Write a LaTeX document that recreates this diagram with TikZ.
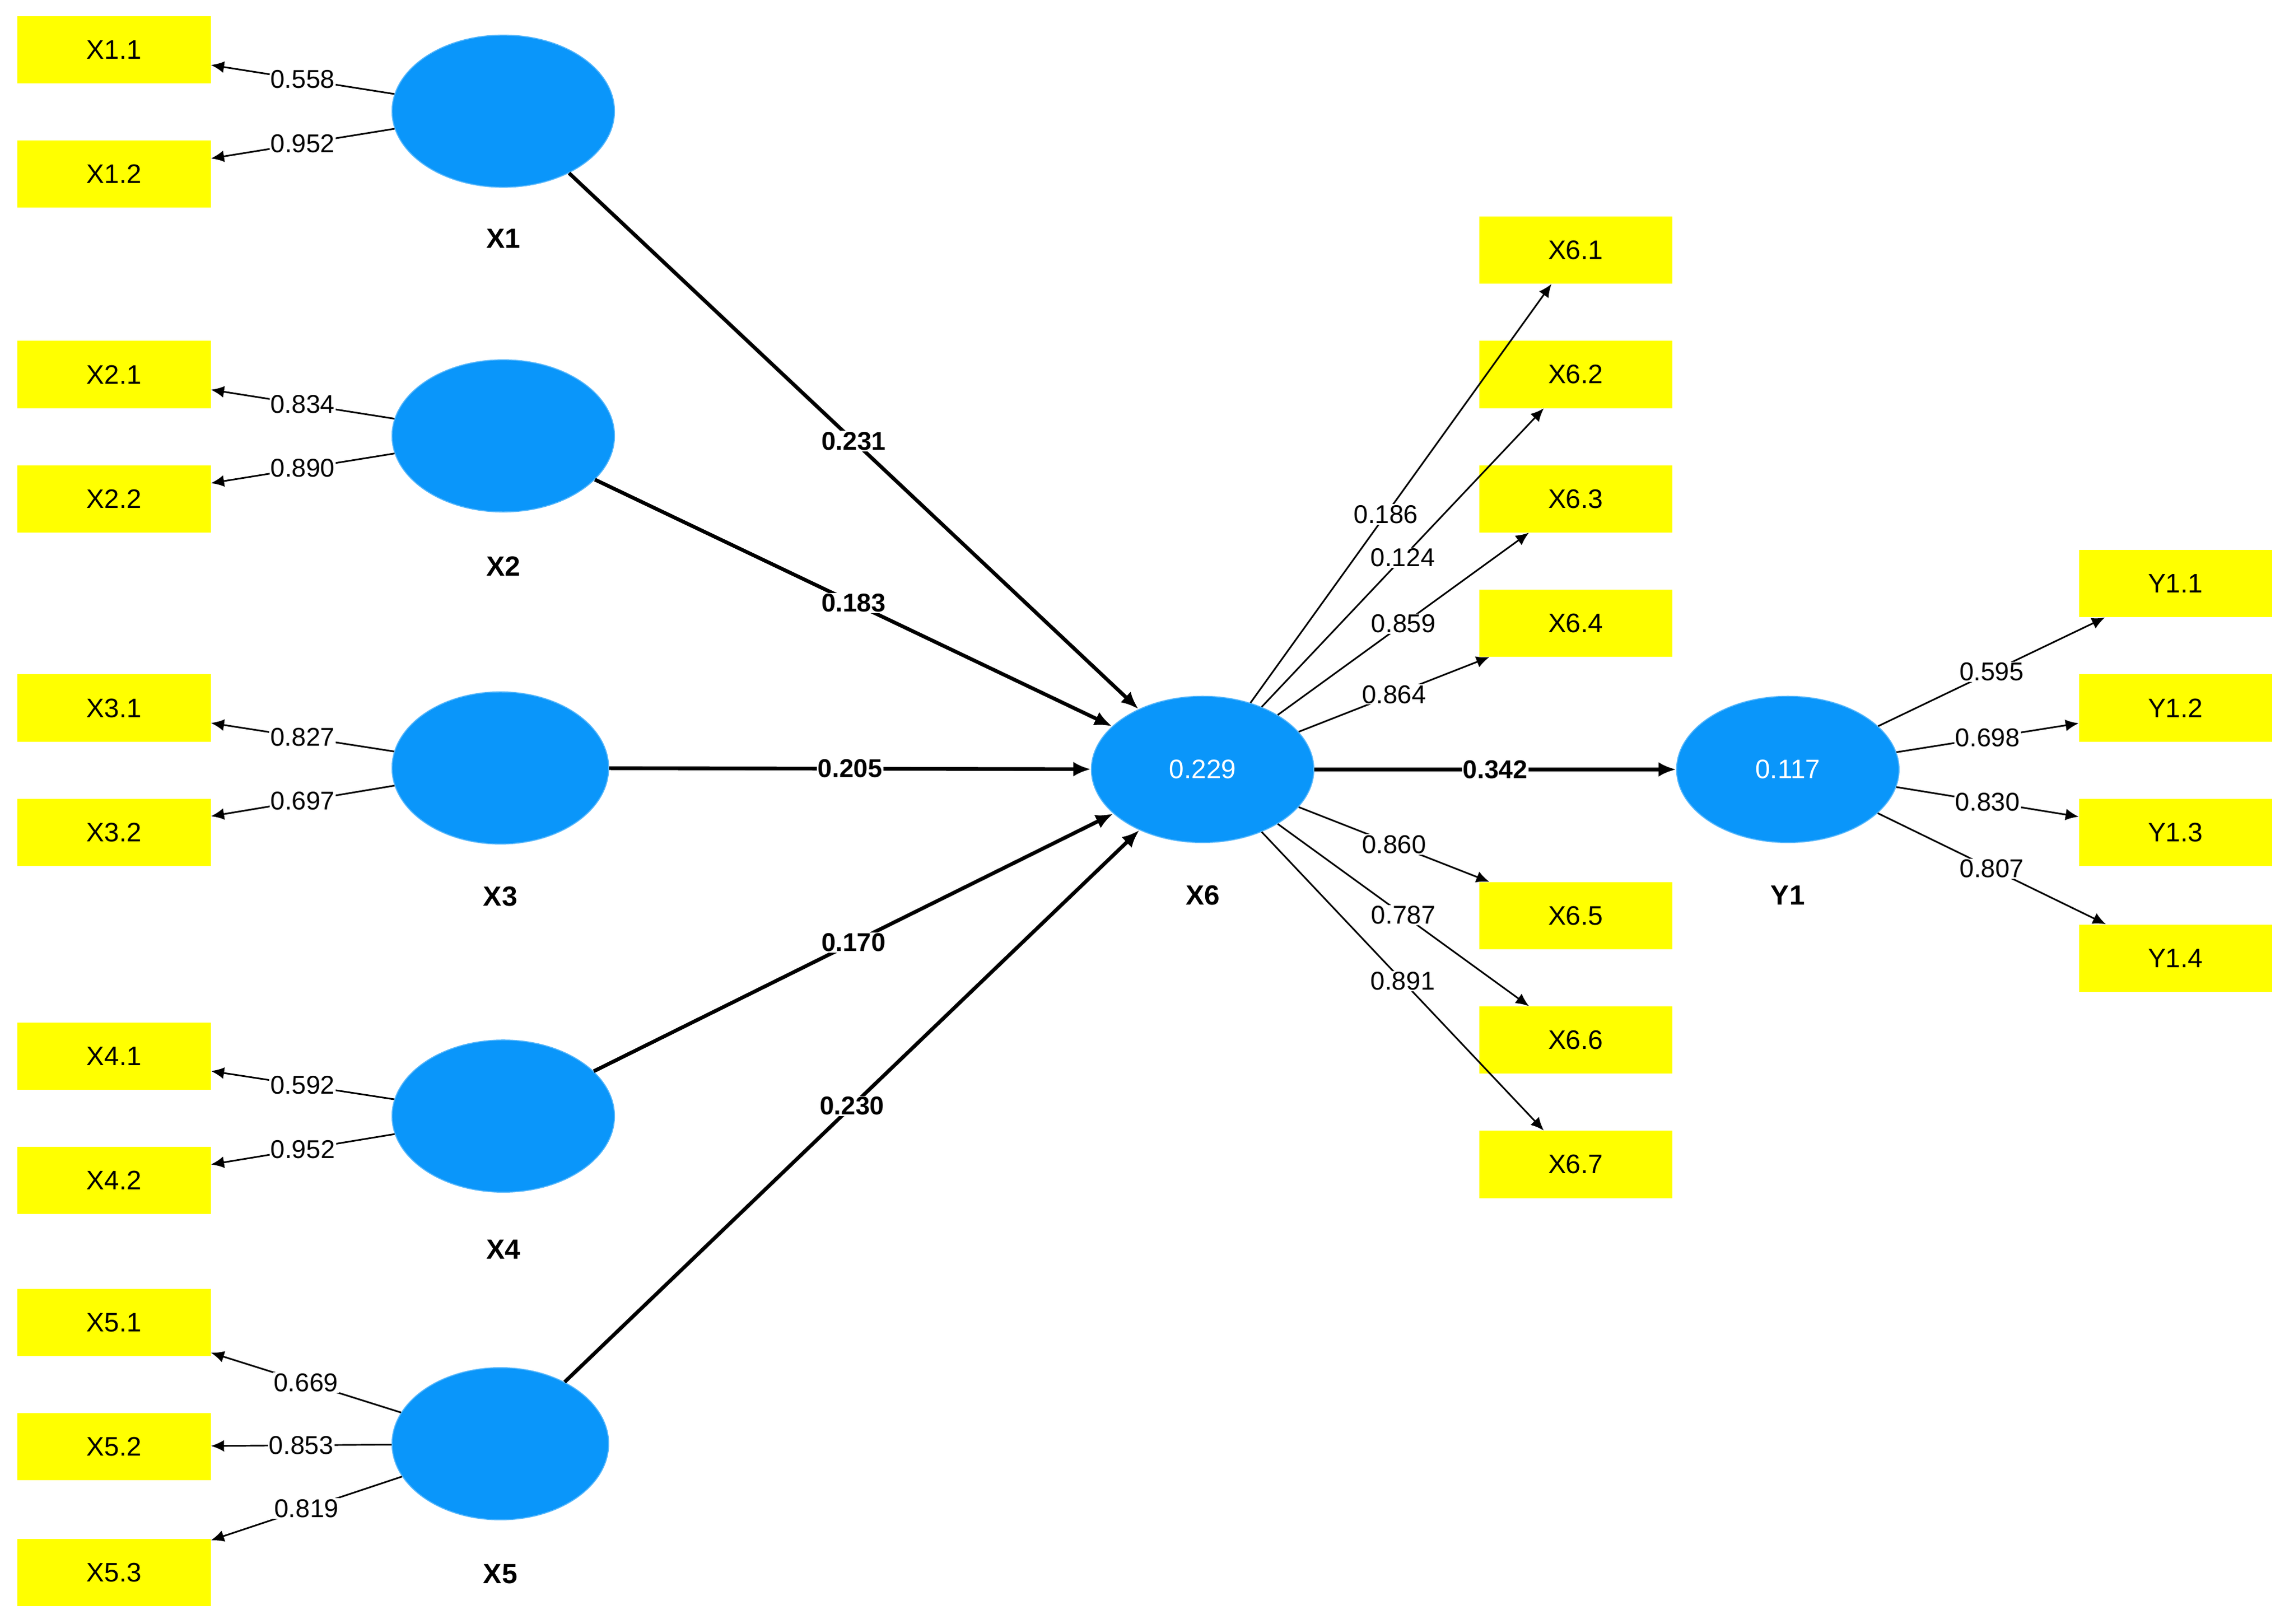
\documentclass[tikz,border=0pt]{standalone}
\usepackage{fontspec}
\setmainfont{Liberation Sans}
\usetikzlibrary{arrows.meta,shapes.geometric}
\definecolor{ybox}{RGB}{255,255,0}
\definecolor{lv}{RGB}{10,150,250}
\begin{document}
\begin{tikzpicture}[x=0.5mm,y=-0.5mm,
 box/.style={fill=ybox,minimum width=66mm,minimum height=23mm,inner sep=0pt,font=\fontsize{26}{28}\selectfont},
 lat/.style={ellipse,fill=lv,draw=lv!70!white,line width=1pt,minimum width=76mm,minimum height=52mm,inner sep=0pt,text=white,font=\fontsize{26}{28}\selectfont},
 lab/.style={font=\bfseries\fontsize{27}{29}\selectfont},
 ld/.style={line width=1.6pt,-{Latex[length=4.5mm,width=4mm]}},
 pth/.style={line width=3.6pt,-{Latex[length=6mm,width=5mm]}},
 lt/.style={fill=white,inner sep=1pt,font=\fontsize{25}{27}\selectfont},
 pt/.style={fill=white,inner sep=1pt,font=\bfseries\fontsize{25}{27}\selectfont}]
\useasboundingbox (0,0) rectangle (1568,1110);
% indicators left
\node[box] (x11) at (78,34) {X1.1};
\node[box] (x12) at (78,119) {X1.2};
\node[box] (x21) at (78,256) {X2.1};
\node[box] (x22) at (78,341) {X2.2};
\node[box] (x31) at (78,484) {X3.1};
\node[box] (x32) at (78,569) {X3.2};
\node[box] (x41) at (78,722) {X4.1};
\node[box] (x42) at (78,807) {X4.2};
\node[box] (x51) at (78,904) {X5.1};
\node[box] (x52) at (78,989) {X5.2};
\node[box] (x53) at (78,1075) {X5.3};
% X6 indicators
\node[box] (x61) at (1077,171) {X6.1};
\node[box] (x62) at (1077,256) {X6.2};
\node[box] (x63) at (1077,341) {X6.3};
\node[box] (x64) at (1077,426) {X6.4};
\node[box] (x65) at (1077,626) {X6.5};
\node[box] (x66) at (1077,711) {X6.6};
\node[box] (x67) at (1077,796) {X6.7};
% Y1 indicators
\node[box] (y11) at (1487,399) {Y1.1};
\node[box] (y12) at (1487,484) {Y1.2};
\node[box] (y13) at (1487,569) {Y1.3};
\node[box] (y14) at (1487,655) {Y1.4};
% latent
\node[lat] (X1) at (344,76) {};
\node[lat] (X2) at (344,298) {};
\node[lat,minimum width=74mm] (X3) at (342,525) {};
\node[lat] (X4) at (344,763) {};
\node[lat,minimum width=74mm] (X5) at (342,987) {};
\node[lat,minimum height=50mm] (X6) at (822,526) {0.229};
\node[lat,minimum height=50mm] (Y1) at (1222,526) {0.117};
\node[lab] (lX1) at (344,163) {X1};
\node[lab] (lX2) at (344,387) {X2};
\node[lab] (lX3) at (342,613) {X3};
\node[lab] (lX4) at (344,854) {X4};
\node[lab] (lX5) at (342,1076) {X5};
\node[lab] (lX6) at (822,612) {X6};
\node[lab] (lY1) at (1222,612) {Y1};
% loadings
\draw[ld] (X1) -- node[lt]{0.558} (x11);
\draw[ld] (X1) -- node[lt]{0.952} (x12);
\draw[ld] (X2) -- node[lt]{0.834} (x21);
\draw[ld] (X2) -- node[lt]{0.890} (x22);
\draw[ld] (X3) -- node[lt]{0.827} (x31);
\draw[ld] (X3) -- node[lt]{0.697} (x32);
\draw[ld] (X4) -- node[lt]{0.592} (x41);
\draw[ld] (X4) -- node[lt]{0.952} (x42);
\draw[ld] (X5) -- node[lt]{0.669} (x51);
\draw[ld] (X5) -- node[lt]{0.853} (x52);
\draw[ld] (X5) -- node[lt]{0.819} (x53);
\draw[ld] (X6) -- node[lt,pos=0.45]{0.186} (x61);
\draw[ld] (X6) -- node[lt,pos=0.5]{0.124} (x62);
\draw[ld] (X6) -- node[lt,pos=0.5]{0.859} (x63);
\draw[ld] (X6) -- node[lt,pos=0.5]{0.864} (x64);
\draw[ld] (X6) -- node[lt,pos=0.5]{0.860} (x65);
\draw[ld] (X6) -- node[lt,pos=0.5]{0.787} (x66);
\draw[ld] (X6) -- node[lt,pos=0.5]{0.891} (x67);
\draw[ld] (Y1) -- node[lt]{0.595} (y11);
\draw[ld] (Y1) -- node[lt]{0.698} (y12);
\draw[ld] (Y1) -- node[lt]{0.830} (y13);
\draw[ld] (Y1) -- node[lt]{0.807} (y14);
% paths
\draw[pth] (X1) -- node[pt]{0.231} (X6);
\draw[pth] (X2) -- node[pt]{0.183} (X6);
\draw[pth] (X3) -- node[pt]{0.205} (X6);
\draw[pth] (X4) -- node[pt]{0.170} (X6);
\draw[pth] (X5) -- node[pt]{0.230} (X6);
\draw[pth] (X6) -- node[pt]{0.342} (Y1);
\end{tikzpicture}
\end{document}
